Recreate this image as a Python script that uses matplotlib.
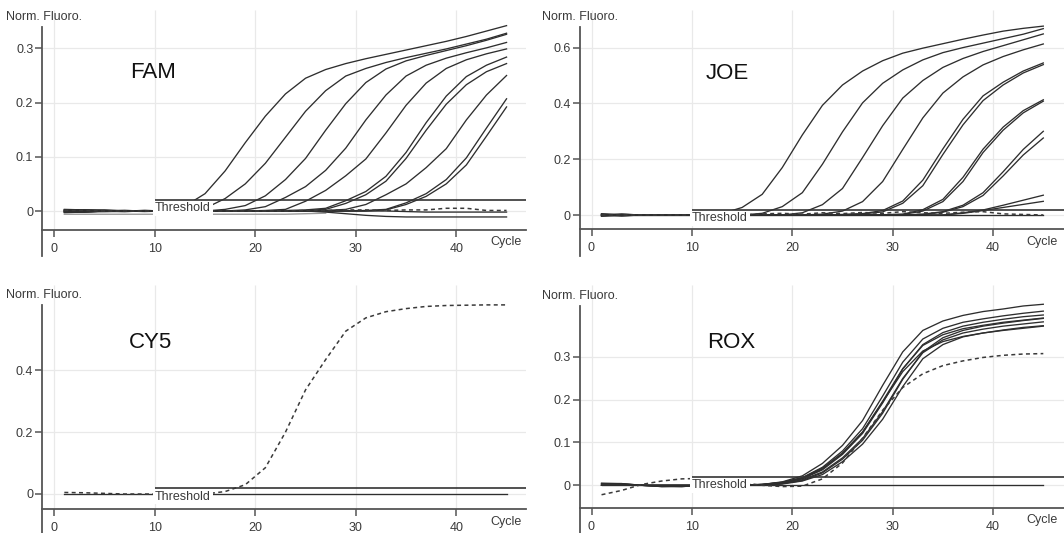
import matplotlib
matplotlib.use("Agg")
import matplotlib.pyplot as plt

plt.rcParams['font.family'] = ['Liberation Sans', 'DejaVu Sans']

# ---------------- data ----------------
CYCLES = [1, 3, 5, 7, 9, 11, 13, 15, 17, 19, 21, 23, 25, 27, 29, 31, 33, 35, 37, 39, 41, 43, 45]
X_TICKS = [0, 10, 20, 30, 40]
X_TICK_LABELS = ["0", "10", "20", "30", "40"]
THRESHOLD_START = 10

# FAM
FAM_CURVES = [
    [0.002, 0.002, 0.001, 0.001, 0.0, 0.001, 0.009, 0.032, 0.074, 0.126, 0.175, 0.216, 0.245, 0.261, 0.272, 0.281, 0.289, 0.297, 0.305, 0.313, 0.322, 0.332, 0.342],
    [-0.002, -0.002, -0.001, -0.001, 0.0, 0.0, 0.001, 0.005, 0.023, 0.050, 0.088, 0.136, 0.184, 0.222, 0.249, 0.263, 0.274, 0.283, 0.291, 0.299, 0.308, 0.317, 0.328],
    [0.003, 0.002, 0.002, 0.0, 0.0, 0.0, 0.0, 0.0, 0.003, 0.010, 0.028, 0.058, 0.097, 0.149, 0.198, 0.237, 0.262, 0.277, 0.287, 0.296, 0.305, 0.315, 0.326],
    [-0.003, -0.002, 0.0, 0.0, 0.001, 0.0, 0.0, 0.0, 0.0, 0.002, 0.008, 0.025, 0.045, 0.075, 0.116, 0.168, 0.214, 0.249, 0.269, 0.282, 0.292, 0.301, 0.311],
    [0.001, 0.0, -0.001, 0.0, 0.0, 0.0, 0.0, 0.0, 0.0, 0.0, 0.001, 0.003, 0.018, 0.038, 0.065, 0.096, 0.144, 0.195, 0.236, 0.263, 0.279, 0.290, 0.299],
    [-0.001, 0.0, 0.001, 0.0, 0.0, 0.0, 0.0, 0.0, 0.0, 0.0, 0.0, 0.001, 0.002, 0.005, 0.019, 0.036, 0.064, 0.108, 0.163, 0.212, 0.248, 0.269, 0.284],
    [0.002, 0.001, 0.0, -0.001, 0.0, 0.0, 0.0, 0.0, 0.0, 0.0, 0.0, 0.0, 0.001, 0.003, 0.014, 0.030, 0.055, 0.097, 0.149, 0.197, 0.233, 0.257, 0.272],
    [-0.002, -0.001, 0.0, 0.001, 0.0, 0.0, 0.0, 0.0, 0.0, 0.0, 0.0, 0.0, 0.0, 0.001, 0.003, 0.012, 0.030, 0.050, 0.080, 0.115, 0.168, 0.214, 0.250],
    [0.001, 0.002, 0.0, 0.0, -0.001, 0.0, 0.0, 0.0, 0.0, 0.0, 0.0, 0.0, 0.0, 0.0, 0.0, 0.001, 0.003, 0.015, 0.032, 0.058, 0.098, 0.153, 0.207],
    [-0.001, -0.002, 0.0, 0.0, 0.001, 0.0, 0.0, 0.0, 0.0, 0.0, 0.0, 0.0, 0.0, 0.0, 0.0, 0.0, 0.002, 0.012, 0.027, 0.050, 0.085, 0.138, 0.192],
    [0.0, 0.0, 0.0, 0.0, 0.0, 0.0, 0.0, 0.0, 0.0, 0.0, 0.0, 0.0, 0.0, -0.002, -0.005, -0.008, -0.010, -0.011, -0.011, -0.011, -0.011, -0.011, -0.011],
    [0.0, 0.0, 0.0, 0.0, 0.0, 0.0, 0.0, 0.0, 0.0, 0.0, 0.0, 0.0, 0.0, 0.0, 0.0, 0.0, 0.0, -0.001, -0.002, -0.002, -0.002, -0.002, -0.002],
]
FAM_GRAY = [-0.006, -0.006, -0.006, -0.006, -0.006, -0.006, -0.006, -0.006, -0.006, -0.006, -0.006, -0.006, -0.005, -0.004,
            None, None, None, None, None, None, None, None, None]
FAM_DASHED = [[0.001, 0.001, 0.0, 0.0, 0.0, 0.0, 0.0, 0.0, 0.0, 0.0, 0.0, 0.0, 0.001, 0.001, 0.002, 0.002, 0.001, 0.002, 0.002, 0.005, 0.005, 0.001, 0.001]]
FAM_THRESHOLD = 0.021
FAM_YTICKS = [0, 0.1, 0.2, 0.3]
FAM_YTICK_LABELS = ["0", "0.1", "0.2", "0.3"]

# JOE
JOE_CURVES = [
    [0.003, -0.002, 0.0, 0.0, 0.0, 0.0, 0.005, 0.027, 0.074, 0.170, 0.287, 0.393, 0.466, 0.516, 0.553, 0.580, 0.598, 0.614, 0.630, 0.645, 0.659, 0.669, 0.677],
    [-0.003, 0.002, 0.0, 0.0, 0.0, 0.0, 0.0, 0.0, 0.006, 0.030, 0.080, 0.182, 0.298, 0.402, 0.472, 0.520, 0.556, 0.582, 0.600, 0.616, 0.632, 0.648, 0.668],
    [0.002, -0.003, 0.0, 0.0, 0.0, 0.0, 0.0, 0.0, 0.0, 0.0, 0.008, 0.037, 0.095, 0.206, 0.320, 0.419, 0.482, 0.529, 0.561, 0.586, 0.607, 0.628, 0.649],
    [-0.002, 0.003, 0.0, 0.0, 0.0, 0.0, 0.0, 0.0, 0.0, 0.0, 0.0, 0.003, 0.014, 0.048, 0.120, 0.235, 0.348, 0.437, 0.495, 0.538, 0.568, 0.592, 0.613],
    [0.004, 0.001, 0.0, 0.0, 0.0, 0.0, 0.0, 0.0, 0.0, 0.0, 0.0, 0.0, 0.002, 0.005, 0.016, 0.050, 0.125, 0.237, 0.343, 0.427, 0.476, 0.516, 0.545],
    [-0.004, -0.001, 0.0, 0.0, 0.0, 0.0, 0.0, 0.0, 0.0, 0.0, 0.0, 0.0, 0.001, 0.004, 0.011, 0.042, 0.105, 0.217, 0.323, 0.410, 0.466, 0.509, 0.539],
    [0.001, 0.003, 0.0, 0.0, 0.0, 0.0, 0.0, 0.0, 0.0, 0.0, 0.0, 0.0, 0.0, 0.001, 0.001, 0.003, 0.019, 0.056, 0.135, 0.236, 0.315, 0.374, 0.413],
    [-0.001, -0.003, 0.0, 0.0, 0.0, 0.0, 0.0, 0.0, 0.0, 0.0, 0.0, 0.0, 0.0, 0.0, 0.001, 0.002, 0.014, 0.048, 0.120, 0.224, 0.304, 0.366, 0.408],
    [0.003, 0.0, 0.0, 0.0, 0.0, 0.0, 0.0, 0.0, 0.0, 0.0, 0.0, 0.0, 0.0, 0.0, 0.0, 0.0, 0.003, 0.012, 0.035, 0.080, 0.155, 0.235, 0.300],
    [-0.003, 0.0, 0.0, 0.0, 0.0, 0.0, 0.0, 0.0, 0.0, 0.0, 0.0, 0.0, 0.0, 0.0, 0.0, 0.0, 0.002, 0.010, 0.030, 0.070, 0.140, 0.215, 0.276],
    [0.002, 0.0, 0.0, 0.0, 0.0, 0.0, 0.0, 0.0, 0.0, 0.0, 0.0, 0.0, 0.0, 0.0, 0.0, 0.0, 0.0, 0.0, 0.008, 0.018, 0.035, 0.053, 0.071],
    [-0.002, 0.0, 0.0, 0.0, 0.0, 0.0, 0.0, 0.0, 0.0, 0.0, 0.0, 0.0, 0.0, 0.0, 0.0, 0.0, 0.0, 0.0, 0.006, 0.016, 0.027, 0.038, 0.049],
    [0.0, 0.0, 0.0, 0.0, 0.0, 0.0, 0.0, 0.0, 0.0, 0.0, 0.0, 0.0, 0.0, 0.0, 0.0, 0.0, 0.0, 0.0, 0.0, 0.0, 0.0, 0.0, 0.0],
]
JOE_GRAY = [None] * 23
JOE_DASHED = [[0.0, 0.0, 0.0, 0.0, 0.0, 0.0, 0.0, 0.0, 0.004, 0.006, 0.003, 0.008, 0.005, 0.009, 0.006, 0.012, 0.008, 0.006, 0.010, 0.012, 0.004, 0.002, 0.0]]
JOE_THRESHOLD = 0.019
JOE_YTICKS = [0, 0.2, 0.4, 0.6]
JOE_YTICK_LABELS = ["0", "0.2", "0.4", "0.6"]

# CY5
CY5_CURVES = [
    [0.0, 0.0, 0.0, 0.0, 0.0, 0.0, 0.0, 0.0, 0.0, 0.0, 0.0, 0.0, 0.0, 0.0, 0.0, 0.0, 0.0, 0.0, 0.0, 0.0, 0.0, 0.0, 0.0],
]
CY5_GRAY = [None] * 23
CY5_DASHED = [[0.005, 0.004, 0.002, 0.0, 0.0, 0.0, 0.0, 0.0, 0.008, 0.030, 0.085, 0.200, 0.337, 0.435, 0.527, 0.570, 0.590, 0.600, 0.607, 0.610, 0.611, 0.612, 0.612]]
CY5_THRESHOLD = 0.019
CY5_YTICKS = [0, 0.2, 0.4]
CY5_YTICK_LABELS = ["0", "0.2", "0.4"]

# ROX
ROX_CURVES = [
    [0.004, 0.003, 0.0, 0.0, 0.0, 0.0, 0.0, 0.001, 0.002, 0.008, 0.022, 0.051, 0.093, 0.151, 0.233, 0.311, 0.361, 0.383, 0.396, 0.405, 0.411, 0.418, 0.422],
    [0.005, 0.004, 0.0, 0.0, 0.0, 0.0, 0.0, 0.0, 0.002, 0.007, 0.018, 0.042, 0.080, 0.132, 0.208, 0.287, 0.341, 0.366, 0.380, 0.388, 0.395, 0.401, 0.406],
    [0.003, 0.004, 0.0, 0.0, 0.0, 0.0, 0.0, 0.0, 0.001, 0.006, 0.015, 0.036, 0.072, 0.121, 0.192, 0.271, 0.328, 0.356, 0.371, 0.380, 0.387, 0.393, 0.397],
    [0.0, 0.0, 0.0, -0.003, -0.003, 0.0, 0.0, 0.0, 0.001, 0.004, 0.013, 0.031, 0.064, 0.109, 0.172, 0.249, 0.309, 0.339, 0.355, 0.364, 0.371, 0.376, 0.381],
    [0.0, 0.0, 0.0, -0.002, -0.003, 0.0, 0.0, 0.0, 0.0, 0.003, 0.010, 0.025, 0.055, 0.096, 0.154, 0.230, 0.295, 0.328, 0.346, 0.355, 0.362, 0.368, 0.372],
    [0.0, 0.0, 0.0, -0.003, -0.002, 0.0, 0.0, 0.0, 0.002, 0.006, 0.016, 0.038, 0.075, 0.124, 0.196, 0.272, 0.326, 0.351, 0.365, 0.373, 0.380, 0.385, 0.390],
    [0.0, 0.0, 0.0, 0.0, 0.0, 0.0, 0.0, 0.0, 0.0, 0.004, 0.011, 0.029, 0.061, 0.105, 0.168, 0.247, 0.311, 0.344, 0.361, 0.371, 0.378, 0.384, 0.389],
    [0.0, 0.0, 0.0, -0.002, -0.002, 0.0, 0.0, 0.0, 0.002, 0.007, 0.017, 0.040, 0.075, 0.124, 0.194, 0.265, 0.313, 0.335, 0.347, 0.355, 0.361, 0.366, 0.371],
    [0.0, 0.0, 0.0, 0.0, 0.0, 0.0, 0.0, 0.0, 0.0, 0.0, 0.0, 0.0, 0.0, 0.0, 0.0, 0.0, 0.0, 0.0, 0.0, 0.0, 0.0, 0.0, 0.0],
]
ROX_GRAY = [None] * 23
ROX_DASHED = [[-0.022, -0.012, 0.002, 0.010, 0.015, 0.016, 0.012, 0.006, 0.0, -0.003, -0.002, 0.015, 0.052, 0.110, 0.175, 0.228, 0.260, 0.279, 0.290, 0.298, 0.303, 0.306, 0.307]]
ROX_THRESHOLD = 0.020
ROX_YTICKS = [0, 0.1, 0.2, 0.3]
ROX_YTICK_LABELS = ["0", "0.1", "0.2", "0.3"]

# ---------------- layout (pixels of a 1064x533 canvas) ----------------
W, H = 1064, 533
PANELS = [
    dict(name="FAM", curves=FAM_CURVES, gray=FAM_GRAY, dashed=FAM_DASHED, thr=FAM_THRESHOLD,
         yticks=FAM_YTICKS, ylabels=FAM_YTICK_LABELS,
         rect=(42.3, 10, 526, 256), x0=54.3, xs=10.05, y0=211.0, ys=542.0,
         spine_top=26.7, axis_y=230.0, label_xy=(7.5, 72.7), norm_xy=(6, 17.5)),
    dict(name="JOE", curves=JOE_CURVES, gray=JOE_GRAY, dashed=JOE_DASHED, thr=JOE_THRESHOLD,
         yticks=JOE_YTICKS, ylabels=JOE_YTICK_LABELS,
         rect=(579.5, 10, 1064, 256), x0=591.5, xs=10.04, y0=215.0, ys=279.0,
         spine_top=27.0, axis_y=229.3, label_xy=(11.4, 73.3), norm_xy=(542, 16.7)),
    dict(name="CY5", curves=CY5_CURVES, gray=CY5_GRAY, dashed=CY5_DASHED, thr=CY5_THRESHOLD,
         yticks=CY5_YTICKS, ylabels=CY5_YTICK_LABELS,
         rect=(42.3, 285, 526, 533), x0=54.3, xs=10.05, y0=494.0, ys=309.0,
         spine_top=305.0, axis_y=509.0, label_xy=(7.4, 342.0), norm_xy=(6, 295.3)),
    dict(name="ROX", curves=ROX_CURVES, gray=ROX_GRAY, dashed=ROX_DASHED, thr=ROX_THRESHOLD,
         yticks=ROX_YTICKS, ylabels=ROX_YTICK_LABELS,
         rect=(579.5, 285, 1064, 533), x0=591.5, xs=10.04, y0=485.3, ys=429.0,
         spine_top=306.0, axis_y=508.0, label_xy=(11.5, 342.0), norm_xy=(542, 296.3)),
]

LINE_C = "#2e2e2e"
AXIS_C = "#555555"
TEXT_C = "#3a3a3a"
GRID_C = "#e9e9e9"

fig = plt.figure(figsize=(W / 100, H / 100), dpi=100)

for p in PANELS:
    l, t, r, b = p["rect"]
    ax = fig.add_axes([l / W, 1 - b / H, (r - l) / W, (b - t) / H])
    ax.patch.set_alpha(0)
    xlo, xhi = (l - p["x0"]) / p["xs"], (r - p["x0"]) / p["xs"]
    ylo, yhi = (p["y0"] - b) / p["ys"], (p["y0"] - t) / p["ys"]
    ax.set_xlim(xlo, xhi)
    ax.set_ylim(ylo, yhi)
    axis_val = (p["y0"] - p["axis_y"]) / p["ys"]
    spine_top_val = (p["y0"] - p["spine_top"]) / p["ys"]

    for s in ("top", "right"):
        ax.spines[s].set_visible(False)
    ax.spines["left"].set_bounds(ylo, spine_top_val)
    ax.spines["bottom"].set_position(("data", axis_val))
    for s in ("left", "bottom"):
        ax.spines[s].set_color(AXIS_C)
        ax.spines[s].set_linewidth(1.3)

    ax.set_xticks(X_TICKS)
    ax.set_xticklabels(X_TICK_LABELS)
    ax.set_yticks(p["yticks"])
    ax.set_yticklabels(p["ylabels"])
    ax.tick_params(axis="both", direction="out", length=5, width=1.1,
                   color=AXIS_C, labelcolor=TEXT_C, labelsize=9)
    ax.tick_params(axis="x", pad=4.5)
    ax.tick_params(axis="y", pad=1.5)

    # grid (stops at the x axis line)
    ax.vlines(X_TICKS, axis_val, yhi, color=GRID_C, lw=0.9, zorder=0)
    ax.hlines(p["yticks"], xlo, xhi, color=GRID_C, lw=0.9, zorder=0)

    # curves
    gray = [float("nan") if v is None else v for v in p["gray"]]
    ax.plot(CYCLES, gray, color="#9a9a9a", lw=1.0, zorder=1.5)
    for vals in p["curves"]:
        ax.plot(CYCLES, vals, color=LINE_C, lw=0.95, zorder=2)
    for vals in p["dashed"]:
        ax.plot(CYCLES, vals, color="#3a3a3a", lw=1.1, ls=(0, (2.6, 2.2)), zorder=2.2)

    # threshold
    ax.hlines(p["thr"], THRESHOLD_START, xhi, color="#333333", lw=1.2, zorder=4)
    ax.annotate("Threshold", xy=(THRESHOLD_START, p["thr"]), xytext=(0, -6.1),
                textcoords="offset points", ha="left", va="center", fontsize=9,
                color=TEXT_C, zorder=3,
                bbox=dict(boxstyle="square,pad=0.15", fc="white", ec="none"))

    # axis caption "Cycle"
    ax.annotate("Cycle", xy=(44.9, axis_val), xytext=(0, -9.0),
                textcoords="offset points", ha="center", va="center",
                fontsize=9, color=TEXT_C, annotation_clip=False)

    # dye label
    lx, ly_px = p["label_xy"]
    ax.text(lx, (p["y0"] - ly_px) / p["ys"], p["name"], fontsize=16,
            ha="left", va="center", color="#111111")

    nx, ny = p["norm_xy"]
    fig.text(nx / W, 1 - ny / H, "Norm. Fluoro.", fontsize=9, ha="left",
             va="center", color=TEXT_C)

fig.savefig("out.png", dpi=100)
